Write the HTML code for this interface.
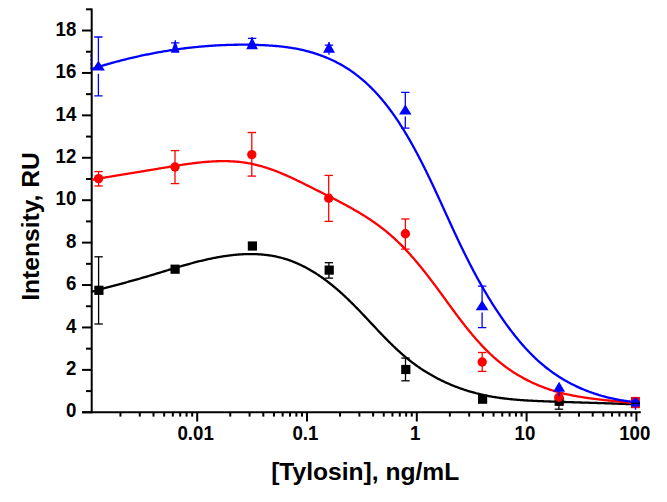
<!DOCTYPE html>
<html><head><meta charset="utf-8"><style>
html,body{margin:0;padding:0;background:#fff;}
svg{display:block;}
.t{font-family:"Liberation Sans",sans-serif;font-weight:bold;font-size:18.67px;fill:#000;}
.ti{font-family:"Liberation Sans",sans-serif;font-weight:bold;font-size:24.6px;fill:#000;}
</style></head><body>
<svg width="667" height="502" viewBox="0 0 667 502" shape-rendering="auto">
<path d="M91.7,8.4 V413.2" stroke="#000" stroke-width="2.0" fill="none"/>
<path d="M82,412.2 H640.8" stroke="#000" stroke-width="2.0" fill="none"/>
<path d="M82.0,412.30 H91.7" stroke="#000" stroke-width="2.0"/>
<path d="M86.0,391.09 H91.7" stroke="#000" stroke-width="2.0"/>
<path d="M82.0,369.88 H91.7" stroke="#000" stroke-width="2.0"/>
<path d="M86.0,348.67 H91.7" stroke="#000" stroke-width="2.0"/>
<path d="M82.0,327.46 H91.7" stroke="#000" stroke-width="2.0"/>
<path d="M86.0,306.25 H91.7" stroke="#000" stroke-width="2.0"/>
<path d="M82.0,285.04 H91.7" stroke="#000" stroke-width="2.0"/>
<path d="M86.0,263.83 H91.7" stroke="#000" stroke-width="2.0"/>
<path d="M82.0,242.62 H91.7" stroke="#000" stroke-width="2.0"/>
<path d="M86.0,221.41 H91.7" stroke="#000" stroke-width="2.0"/>
<path d="M82.0,200.20 H91.7" stroke="#000" stroke-width="2.0"/>
<path d="M86.0,178.99 H91.7" stroke="#000" stroke-width="2.0"/>
<path d="M82.0,157.78 H91.7" stroke="#000" stroke-width="2.0"/>
<path d="M86.0,136.57 H91.7" stroke="#000" stroke-width="2.0"/>
<path d="M82.0,115.36 H91.7" stroke="#000" stroke-width="2.0"/>
<path d="M86.0,94.15 H91.7" stroke="#000" stroke-width="2.0"/>
<path d="M82.0,72.94 H91.7" stroke="#000" stroke-width="2.0"/>
<path d="M86.0,51.73 H91.7" stroke="#000" stroke-width="2.0"/>
<path d="M82.0,30.52 H91.7" stroke="#000" stroke-width="2.0"/>
<path d="M86.0,9.31 H91.7" stroke="#000" stroke-width="2.0"/>
<path d="M120.45,412.2 V416.6" stroke="#000" stroke-width="2.0"/>
<path d="M139.79,412.2 V416.6" stroke="#000" stroke-width="2.0"/>
<path d="M153.51,412.2 V416.6" stroke="#000" stroke-width="2.0"/>
<path d="M164.15,412.2 V416.6" stroke="#000" stroke-width="2.0"/>
<path d="M172.84,412.2 V416.6" stroke="#000" stroke-width="2.0"/>
<path d="M180.19,412.2 V416.6" stroke="#000" stroke-width="2.0"/>
<path d="M186.56,412.2 V416.6" stroke="#000" stroke-width="2.0"/>
<path d="M192.18,412.2 V416.6" stroke="#000" stroke-width="2.0"/>
<path d="M197.20,412.2 V421.5" stroke="#000" stroke-width="2.0"/>
<path d="M230.25,412.2 V416.6" stroke="#000" stroke-width="2.0"/>
<path d="M249.59,412.2 V416.6" stroke="#000" stroke-width="2.0"/>
<path d="M263.31,412.2 V416.6" stroke="#000" stroke-width="2.0"/>
<path d="M273.95,412.2 V416.6" stroke="#000" stroke-width="2.0"/>
<path d="M282.64,412.2 V416.6" stroke="#000" stroke-width="2.0"/>
<path d="M289.99,412.2 V416.6" stroke="#000" stroke-width="2.0"/>
<path d="M296.36,412.2 V416.6" stroke="#000" stroke-width="2.0"/>
<path d="M301.98,412.2 V416.6" stroke="#000" stroke-width="2.0"/>
<path d="M307.00,412.2 V421.5" stroke="#000" stroke-width="2.0"/>
<path d="M340.05,412.2 V416.6" stroke="#000" stroke-width="2.0"/>
<path d="M359.39,412.2 V416.6" stroke="#000" stroke-width="2.0"/>
<path d="M373.11,412.2 V416.6" stroke="#000" stroke-width="2.0"/>
<path d="M383.75,412.2 V416.6" stroke="#000" stroke-width="2.0"/>
<path d="M392.44,412.2 V416.6" stroke="#000" stroke-width="2.0"/>
<path d="M399.79,412.2 V416.6" stroke="#000" stroke-width="2.0"/>
<path d="M406.16,412.2 V416.6" stroke="#000" stroke-width="2.0"/>
<path d="M411.78,412.2 V416.6" stroke="#000" stroke-width="2.0"/>
<path d="M416.80,412.2 V421.5" stroke="#000" stroke-width="2.0"/>
<path d="M449.85,412.2 V416.6" stroke="#000" stroke-width="2.0"/>
<path d="M469.19,412.2 V416.6" stroke="#000" stroke-width="2.0"/>
<path d="M482.91,412.2 V416.6" stroke="#000" stroke-width="2.0"/>
<path d="M493.55,412.2 V416.6" stroke="#000" stroke-width="2.0"/>
<path d="M502.24,412.2 V416.6" stroke="#000" stroke-width="2.0"/>
<path d="M509.59,412.2 V416.6" stroke="#000" stroke-width="2.0"/>
<path d="M515.96,412.2 V416.6" stroke="#000" stroke-width="2.0"/>
<path d="M521.58,412.2 V416.6" stroke="#000" stroke-width="2.0"/>
<path d="M526.60,412.2 V421.5" stroke="#000" stroke-width="2.0"/>
<path d="M559.65,412.2 V416.6" stroke="#000" stroke-width="2.0"/>
<path d="M578.99,412.2 V416.6" stroke="#000" stroke-width="2.0"/>
<path d="M592.71,412.2 V416.6" stroke="#000" stroke-width="2.0"/>
<path d="M603.35,412.2 V416.6" stroke="#000" stroke-width="2.0"/>
<path d="M612.04,412.2 V416.6" stroke="#000" stroke-width="2.0"/>
<path d="M619.39,412.2 V416.6" stroke="#000" stroke-width="2.0"/>
<path d="M625.76,412.2 V416.6" stroke="#000" stroke-width="2.0"/>
<path d="M631.38,412.2 V416.6" stroke="#000" stroke-width="2.0"/>
<path d="M636.40,412.2 V421.5" stroke="#000" stroke-width="2.0"/>
<text transform="translate(76.3,417.00) scale(1,1.07)" text-anchor="end" class="t">0</text>
<text transform="translate(76.3,375.08) scale(1,1.07)" text-anchor="end" class="t">2</text>
<text transform="translate(76.3,332.66) scale(1,1.07)" text-anchor="end" class="t">4</text>
<text transform="translate(76.3,290.24) scale(1,1.07)" text-anchor="end" class="t">6</text>
<text transform="translate(76.3,247.82) scale(1,1.07)" text-anchor="end" class="t">8</text>
<text transform="translate(76.3,205.40) scale(1,1.07)" text-anchor="end" class="t">10</text>
<text transform="translate(76.3,162.98) scale(1,1.07)" text-anchor="end" class="t">12</text>
<text transform="translate(76.3,120.56) scale(1,1.07)" text-anchor="end" class="t">14</text>
<text transform="translate(76.3,78.14) scale(1,1.07)" text-anchor="end" class="t">16</text>
<text transform="translate(76.3,35.72) scale(1,1.07)" text-anchor="end" class="t">18</text>
<text transform="translate(195.60,440.2) scale(1,1.07)" text-anchor="middle" class="t">0.01</text>
<text transform="translate(305.40,440.2) scale(1,1.07)" text-anchor="middle" class="t">0.1</text>
<text transform="translate(415.20,440.2) scale(1,1.07)" text-anchor="middle" class="t">1</text>
<text transform="translate(525.00,440.2) scale(1,1.07)" text-anchor="middle" class="t">10</text>
<text transform="translate(634.80,440.2) scale(1,1.07)" text-anchor="middle" class="t">100</text>
<text x="365.2" y="479.7" text-anchor="middle" class="ti">[Tylosin], ng/mL</text>
<text transform="translate(38.9,226.5) rotate(-90)" text-anchor="middle" class="ti">Intensity, RU</text>
<path d="M91.98,291.53 L92.95,291.28 L93.92,291.02 L94.88,290.76 L95.85,290.50 L96.81,290.25 L97.78,289.99 L98.74,289.74 L99.71,289.48 L100.67,289.22 L101.64,288.97 L102.60,288.71 L103.57,288.46 L104.53,288.20 L105.49,287.94 L106.46,287.69 L107.42,287.43 L108.38,287.18 L109.34,286.92 L110.31,286.66 L111.27,286.41 L112.23,286.15 L113.19,285.89 L114.15,285.63 L115.11,285.38 L116.07,285.12 L117.03,284.86 L117.99,284.60 L118.95,284.34 L119.91,284.08 L120.87,283.82 L121.83,283.56 L122.79,283.30 L123.75,283.04 L124.71,282.78 L125.67,282.52 L126.63,282.26 L127.58,281.99 L128.54,281.73 L129.50,281.47 L130.46,281.20 L131.42,280.93 L132.37,280.67 L133.33,280.40 L134.29,280.13 L135.24,279.86 L136.20,279.60 L137.16,279.33 L138.11,279.05 L139.07,278.78 L140.02,278.51 L140.98,278.24 L141.94,277.96 L142.89,277.69 L143.85,277.41 L144.80,277.13 L145.76,276.85 L146.71,276.57 L147.67,276.29 L148.62,276.01 L149.57,275.73 L150.53,275.44 L151.48,275.16 L152.44,274.87 L153.39,274.59 L154.35,274.30 L155.30,274.01 L156.25,273.72 L157.21,273.43 L158.16,273.14 L159.12,272.85 L160.07,272.56 L161.02,272.27 L161.98,271.98 L162.93,271.69 L163.89,271.40 L164.84,271.11 L165.80,270.82 L166.75,270.52 L167.71,270.23 L168.66,269.94 L169.62,269.65 L170.57,269.36 L171.53,269.07 L172.48,268.79 L173.44,268.50 L174.40,268.21 L175.35,267.92 L176.31,267.64 L177.27,267.35 L178.23,267.07 L179.18,266.79 L180.14,266.51 L181.10,266.23 L182.06,265.95 L183.02,265.67 L183.98,265.40 L184.94,265.12 L185.90,264.85 L186.87,264.58 L187.83,264.31 L188.79,264.04 L189.75,263.78 L190.72,263.51 L191.68,263.25 L192.65,262.99 L193.61,262.73 L194.58,262.48 L195.54,262.23 L196.51,261.98 L197.48,261.73 L198.45,261.48 L199.42,261.24 L200.39,261.00 L201.36,260.76 L202.33,260.53 L203.30,260.30 L204.28,260.07 L205.25,259.84 L206.23,259.62 L207.20,259.40 L208.18,259.19 L209.15,258.97 L210.13,258.76 L211.11,258.56 L212.09,258.36 L213.07,258.16 L214.05,257.96 L215.04,257.77 L216.02,257.58 L217.00,257.40 L217.99,257.22 L218.98,257.05 L219.96,256.88 L220.95,256.71 L221.94,256.55 L222.93,256.39 L223.93,256.23 L224.92,256.09 L225.91,255.94 L226.91,255.80 L227.90,255.67 L228.90,255.53 L229.90,255.41 L230.89,255.29 L231.89,255.17 L232.89,255.06 L233.89,254.96 L234.89,254.86 L235.89,254.76 L236.89,254.68 L237.89,254.59 L238.89,254.51 L239.89,254.44 L240.89,254.38 L241.89,254.32 L242.89,254.26 L243.89,254.22 L244.89,254.17 L245.89,254.14 L246.89,254.11 L247.89,254.09 L248.89,254.07 L249.89,254.06 L250.89,254.06 L251.89,254.06 L252.88,254.07 L253.88,254.09 L254.87,254.12 L255.86,254.15 L256.86,254.19 L257.85,254.23 L258.84,254.29 L259.83,254.35 L260.82,254.42 L261.80,254.49 L262.79,254.58 L263.77,254.67 L264.76,254.77 L265.74,254.87 L266.72,254.99 L267.69,255.11 L268.67,255.24 L269.65,255.38 L270.62,255.53 L271.59,255.69 L272.56,255.85 L273.52,256.03 L274.49,256.21 L275.45,256.40 L276.41,256.60 L277.37,256.81 L278.32,257.03 L279.28,257.26 L280.23,257.49 L281.17,257.74 L282.12,257.99 L283.06,258.26 L284.00,258.53 L284.94,258.81 L285.88,259.10 L286.81,259.40 L287.74,259.71 L288.67,260.03 L289.59,260.35 L290.51,260.68 L291.43,261.03 L292.35,261.38 L293.26,261.73 L294.17,262.10 L295.08,262.47 L295.99,262.85 L296.89,263.24 L297.79,263.64 L298.69,264.04 L299.59,264.46 L300.48,264.87 L301.37,265.30 L302.26,265.73 L303.14,266.17 L304.03,266.62 L304.91,267.08 L305.78,267.54 L306.66,268.01 L307.53,268.48 L308.39,268.96 L309.26,269.45 L310.12,269.94 L310.98,270.44 L311.84,270.95 L312.69,271.46 L313.55,271.98 L314.39,272.51 L315.24,273.04 L316.08,273.57 L316.92,274.11 L317.76,274.66 L318.59,275.21 L319.43,275.77 L320.25,276.34 L321.08,276.90 L321.90,277.48 L322.72,278.06 L323.54,278.64 L324.35,279.23 L325.16,279.82 L325.97,280.42 L326.78,281.02 L327.58,281.63 L328.38,282.24 L329.18,282.86 L329.97,283.48 L330.76,284.10 L331.55,284.73 L332.33,285.36 L333.11,286.00 L333.89,286.64 L334.67,287.28 L335.44,287.93 L336.21,288.58 L336.97,289.24 L337.74,289.89 L338.50,290.56 L339.25,291.22 L340.01,291.89 L340.76,292.56 L341.51,293.23 L342.25,293.91 L342.99,294.58 L343.73,295.27 L344.47,295.95 L345.20,296.64 L345.94,297.33 L346.67,298.02 L347.39,298.71 L348.12,299.41 L348.84,300.11 L349.56,300.81 L350.28,301.51 L350.99,302.21 L351.71,302.92 L352.42,303.63 L353.13,304.34 L353.84,305.05 L354.55,305.76 L355.25,306.48 L355.95,307.20 L356.66,307.91 L357.36,308.63 L358.05,309.35 L358.75,310.07 L359.45,310.80 L360.14,311.52 L360.84,312.25 L361.53,312.97 L362.22,313.70 L362.91,314.43 L363.60,315.15 L364.29,315.88 L364.98,316.61 L365.67,317.34 L366.35,318.07 L367.04,318.80 L367.73,319.53 L368.41,320.26 L369.10,320.99 L369.78,321.72 L370.47,322.45 L371.15,323.18 L371.84,323.91 L372.52,324.65 L373.20,325.37 L373.89,326.10 L374.57,326.83 L375.26,327.56 L375.94,328.29 L376.63,329.02 L377.31,329.74 L378.00,330.47 L378.69,331.19 L379.37,331.92 L380.06,332.64 L380.75,333.36 L381.44,334.08 L382.13,334.80 L382.82,335.51 L383.51,336.23 L384.21,336.94 L384.90,337.66 L385.60,338.37 L386.29,339.08 L386.99,339.79 L387.69,340.49 L388.39,341.20 L389.10,341.90 L389.80,342.60 L390.51,343.29 L391.21,343.99 L391.92,344.68 L392.63,345.37 L393.35,346.06 L394.06,346.75 L394.78,347.43 L395.50,348.11 L396.22,348.79 L396.94,349.46 L397.67,350.13 L398.40,350.80 L399.13,351.47 L399.86,352.13 L400.60,352.79 L401.33,353.45 L402.07,354.10 L402.82,354.75 L403.57,355.40 L404.31,356.04 L405.07,356.68 L405.82,357.31 L406.58,357.94 L407.34,358.57 L408.11,359.20 L408.88,359.81 L409.65,360.43 L410.42,361.04 L411.20,361.65 L411.98,362.25 L412.77,362.85 L413.56,363.45 L414.35,364.04 L415.15,364.62 L415.95,365.20 L416.75,365.78 L417.56,366.35 L418.37,366.92 L419.18,367.48 L420.00,368.04 L420.82,368.59 L421.65,369.14 L422.48,369.68 L423.31,370.22 L424.15,370.75 L424.98,371.28 L425.83,371.81 L426.67,372.33 L427.52,372.85 L428.37,373.36 L429.23,373.86 L430.08,374.37 L430.94,374.86 L431.81,375.36 L432.68,375.84 L433.55,376.33 L434.42,376.80 L435.29,377.28 L436.17,377.75 L437.05,378.21 L437.94,378.67 L438.82,379.12 L439.71,379.57 L440.61,380.02 L441.50,380.46 L442.40,380.89 L443.30,381.32 L444.20,381.75 L445.10,382.17 L446.01,382.58 L446.92,382.99 L447.83,383.40 L448.75,383.80 L449.66,384.19 L450.58,384.58 L451.50,384.97 L452.43,385.35 L453.35,385.73 L454.28,386.10 L455.21,386.46 L456.14,386.82 L457.07,387.18 L458.01,387.53 L458.94,387.88 L459.88,388.22 L460.82,388.55 L461.77,388.89 L462.71,389.21 L463.66,389.53 L464.60,389.85 L465.55,390.16 L466.50,390.46 L467.46,390.76 L468.41,391.06 L469.37,391.35 L470.32,391.63 L471.28,391.91 L472.24,392.19 L473.20,392.46 L474.16,392.72 L475.13,392.98 L476.09,393.24 L477.06,393.49 L478.03,393.73 L478.99,393.97 L479.96,394.20 L480.93,394.43 L481.91,394.65 L482.88,394.87 L483.85,395.08 L484.83,395.29 L485.80,395.49 L486.78,395.69 L487.76,395.88 L488.73,396.07 L489.71,396.26 L490.69,396.44 L491.67,396.61 L492.65,396.78 L493.64,396.95 L494.62,397.11 L495.60,397.26 L496.59,397.42 L497.57,397.57 L498.56,397.71 L499.54,397.85 L500.53,397.99 L501.52,398.12 L502.51,398.25 L503.50,398.38 L504.49,398.50 L505.48,398.62 L506.47,398.73 L507.46,398.85 L508.45,398.95 L509.44,399.06 L510.44,399.16 L511.43,399.26 L512.42,399.36 L513.42,399.45 L514.41,399.54 L515.41,399.63 L516.40,399.71 L517.40,399.80 L518.39,399.88 L519.39,399.95 L520.39,400.03 L521.38,400.10 L522.38,400.17 L523.38,400.24 L524.38,400.31 L525.38,400.37 L526.37,400.43 L527.37,400.49 L528.37,400.55 L529.37,400.61 L530.37,400.66 L531.37,400.72 L532.37,400.77 L533.37,400.82 L534.36,400.87 L535.36,400.91 L536.36,400.96 L537.36,401.01 L538.36,401.05 L539.36,401.09 L540.36,401.14 L541.36,401.18 L542.36,401.22 L543.36,401.26 L544.36,401.29 L545.35,401.33 L546.35,401.37 L547.35,401.41 L548.35,401.44 L549.35,401.48 L550.35,401.52 L551.34,401.55 L552.34,401.59 L553.34,401.62 L554.33,401.66 L555.33,401.69 L556.33,401.73 L557.33,401.76 L558.32,401.79 L559.32,401.83 L560.31,401.86 L561.31,401.89 L562.31,401.93 L563.30,401.96 L564.30,401.99 L565.29,402.02 L566.29,402.05 L567.29,402.08 L568.28,402.12 L569.28,402.15 L570.27,402.18 L571.27,402.21 L572.26,402.24 L573.26,402.27 L574.25,402.30 L575.25,402.33 L576.24,402.36 L577.24,402.39 L578.23,402.42 L579.23,402.45 L580.22,402.48 L581.22,402.51 L582.21,402.54 L583.20,402.57 L584.20,402.60 L585.19,402.63 L586.19,402.66 L587.18,402.69 L588.18,402.72 L589.17,402.75 L590.17,402.78 L591.16,402.81 L592.16,402.84 L593.15,402.87 L594.14,402.90 L595.14,402.93 L596.13,402.96 L597.13,402.99 L598.12,403.03 L599.12,403.06 L600.11,403.09 L601.11,403.12 L602.10,403.15 L603.10,403.18 L604.09,403.22 L605.09,403.25 L606.08,403.28 L607.08,403.32 L608.07,403.35 L609.07,403.38 L610.07,403.42 L611.06,403.45 L612.06,403.49 L613.05,403.52 L614.05,403.56 L615.04,403.59 L616.04,403.63 L617.04,403.66 L618.03,403.70 L619.03,403.74 L620.03,403.77 L621.02,403.81 L622.02,403.85 L623.02,403.89 L624.02,403.93 L625.01,403.97 L626.01,404.01 L627.01,404.05 L628.01,404.09 L629.01,404.13 L630.00,404.18 L631.00,404.22 L632.00,404.26 L633.00,404.31 L634.00,404.35 L635.00,404.39 L636.00,404.44 L637.00,404.49" stroke="#000" stroke-width="2.3" fill="none" stroke-linejoin="round"/>
<path d="M91.95,179.70 L93.01,179.52 L94.07,179.34 L95.13,179.16 L96.19,178.98 L97.24,178.80 L98.30,178.62 L99.35,178.44 L100.40,178.26 L101.45,178.09 L102.50,177.91 L103.55,177.73 L104.59,177.56 L105.64,177.38 L106.68,177.21 L107.73,177.03 L108.77,176.86 L109.81,176.69 L110.85,176.52 L111.89,176.34 L112.93,176.17 L113.97,176.00 L115.01,175.83 L116.05,175.66 L117.08,175.49 L118.12,175.32 L119.15,175.15 L120.19,174.98 L121.22,174.81 L122.26,174.64 L123.29,174.47 L124.33,174.30 L125.36,174.13 L126.39,173.96 L127.42,173.79 L128.46,173.62 L129.49,173.45 L130.52,173.28 L131.55,173.12 L132.59,172.95 L133.62,172.78 L134.65,172.61 L135.68,172.44 L136.71,172.27 L137.75,172.10 L138.78,171.93 L139.81,171.76 L140.84,171.59 L141.88,171.42 L142.91,171.25 L143.94,171.08 L144.98,170.91 L146.01,170.74 L147.05,170.57 L148.08,170.40 L149.12,170.23 L150.15,170.06 L151.19,169.89 L152.23,169.71 L153.27,169.54 L154.30,169.37 L155.34,169.19 L156.38,169.02 L157.43,168.85 L158.47,168.67 L159.51,168.49 L160.56,168.32 L161.60,168.14 L162.65,167.97 L163.69,167.79 L164.74,167.61 L165.79,167.44 L166.84,167.26 L167.89,167.08 L168.94,166.91 L169.99,166.73 L171.04,166.56 L172.09,166.39 L173.14,166.21 L174.19,166.04 L175.25,165.87 L176.30,165.70 L177.36,165.53 L178.41,165.37 L179.47,165.20 L180.52,165.04 L181.58,164.88 L182.64,164.72 L183.69,164.56 L184.75,164.41 L185.81,164.25 L186.86,164.10 L187.92,163.95 L188.98,163.81 L190.04,163.67 L191.10,163.52 L192.16,163.39 L193.21,163.25 L194.27,163.12 L195.33,162.99 L196.39,162.87 L197.45,162.75 L198.51,162.63 L199.57,162.52 L200.63,162.40 L201.68,162.30 L202.74,162.20 L203.80,162.10 L204.86,162.00 L205.92,161.91 L206.97,161.83 L208.03,161.75 L209.09,161.67 L210.15,161.60 L211.20,161.53 L212.26,161.47 L213.31,161.41 L214.37,161.36 L215.42,161.32 L216.48,161.27 L217.53,161.24 L218.59,161.21 L219.64,161.19 L220.69,161.17 L221.74,161.16 L222.79,161.15 L223.84,161.15 L224.89,161.16 L225.94,161.17 L226.99,161.19 L228.04,161.22 L229.09,161.25 L230.13,161.29 L231.18,161.34 L232.22,161.39 L233.27,161.45 L234.31,161.52 L235.35,161.59 L236.39,161.68 L237.43,161.77 L238.47,161.87 L239.51,161.97 L240.55,162.09 L241.58,162.21 L242.62,162.34 L243.65,162.48 L244.69,162.63 L245.72,162.78 L246.75,162.95 L247.78,163.12 L248.80,163.30 L249.83,163.49 L250.86,163.69 L251.88,163.90 L252.90,164.12 L253.92,164.34 L254.94,164.58 L255.96,164.82 L256.98,165.07 L258.00,165.33 L259.01,165.59 L260.02,165.87 L261.04,166.15 L262.04,166.43 L263.05,166.73 L264.06,167.03 L265.06,167.34 L266.07,167.65 L267.07,167.98 L268.07,168.30 L269.07,168.64 L270.06,168.98 L271.06,169.33 L272.05,169.68 L273.04,170.04 L274.03,170.40 L275.02,170.77 L276.01,171.15 L276.99,171.53 L277.97,171.91 L278.95,172.30 L279.93,172.70 L280.91,173.10 L281.88,173.50 L282.85,173.91 L283.82,174.33 L284.79,174.74 L285.76,175.16 L286.72,175.59 L287.69,176.02 L288.65,176.45 L289.61,176.88 L290.57,177.32 L291.53,177.77 L292.49,178.21 L293.44,178.66 L294.40,179.11 L295.35,179.56 L296.30,180.02 L297.26,180.48 L298.21,180.94 L299.16,181.40 L300.11,181.86 L301.06,182.33 L302.01,182.80 L302.96,183.27 L303.91,183.74 L304.86,184.21 L305.80,184.68 L306.75,185.16 L307.70,185.63 L308.65,186.11 L309.60,186.58 L310.54,187.06 L311.49,187.53 L312.44,188.01 L313.39,188.49 L314.34,188.97 L315.29,189.44 L316.24,189.92 L317.19,190.40 L318.14,190.87 L319.10,191.35 L320.05,191.83 L321.00,192.30 L321.95,192.78 L322.90,193.26 L323.85,193.74 L324.81,194.22 L325.76,194.70 L326.71,195.18 L327.66,195.66 L328.61,196.14 L329.56,196.62 L330.51,197.10 L331.46,197.59 L332.41,198.07 L333.36,198.56 L334.31,199.05 L335.25,199.53 L336.20,200.02 L337.15,200.51 L338.09,201.01 L339.03,201.50 L339.98,201.99 L340.92,202.49 L341.86,202.99 L342.80,203.49 L343.73,203.99 L344.67,204.49 L345.61,205.00 L346.54,205.51 L347.47,206.02 L348.40,206.53 L349.33,207.04 L350.26,207.56 L351.18,208.07 L352.11,208.59 L353.03,209.12 L353.95,209.64 L354.87,210.17 L355.78,210.70 L356.70,211.23 L357.61,211.77 L358.52,212.30 L359.43,212.84 L360.33,213.39 L361.24,213.94 L362.14,214.48 L363.03,215.04 L363.93,215.59 L364.82,216.15 L365.71,216.71 L366.60,217.28 L367.49,217.85 L368.37,218.42 L369.25,219.00 L370.12,219.58 L371.00,220.16 L371.87,220.75 L372.73,221.34 L373.60,221.93 L374.46,222.53 L375.32,223.13 L376.17,223.74 L377.02,224.35 L377.87,224.96 L378.71,225.58 L379.55,226.20 L380.39,226.83 L381.22,227.46 L382.05,228.09 L382.88,228.74 L383.70,229.38 L384.52,230.03 L385.33,230.68 L386.14,231.34 L386.95,232.01 L387.75,232.67 L388.55,233.35 L389.34,234.02 L390.13,234.71 L390.92,235.39 L391.70,236.08 L392.48,236.78 L393.26,237.47 L394.03,238.18 L394.80,238.88 L395.56,239.60 L396.32,240.31 L397.08,241.03 L397.84,241.75 L398.59,242.48 L399.34,243.21 L400.08,243.94 L400.82,244.68 L401.56,245.42 L402.30,246.17 L403.03,246.92 L403.76,247.67 L404.49,248.43 L405.21,249.18 L405.93,249.95 L406.65,250.71 L407.37,251.48 L408.08,252.25 L408.79,253.03 L409.50,253.81 L410.20,254.59 L410.90,255.37 L411.60,256.16 L412.30,256.95 L412.99,257.74 L413.69,258.53 L414.38,259.33 L415.06,260.13 L415.75,260.93 L416.43,261.74 L417.11,262.55 L417.79,263.36 L418.47,264.17 L419.14,264.98 L419.81,265.80 L420.48,266.62 L421.15,267.44 L421.82,268.26 L422.48,269.09 L423.14,269.91 L423.81,270.74 L424.46,271.57 L425.12,272.41 L425.78,273.24 L426.43,274.08 L427.08,274.91 L427.74,275.75 L428.38,276.59 L429.03,277.44 L429.68,278.28 L430.32,279.12 L430.97,279.97 L431.61,280.82 L432.25,281.66 L432.89,282.51 L433.53,283.36 L434.17,284.22 L434.81,285.07 L435.44,285.92 L436.08,286.78 L436.71,287.63 L437.35,288.49 L437.98,289.34 L438.61,290.20 L439.24,291.06 L439.87,291.92 L440.50,292.78 L441.13,293.63 L441.76,294.49 L442.38,295.35 L443.01,296.21 L443.64,297.07 L444.27,297.93 L444.89,298.79 L445.52,299.65 L446.14,300.51 L446.77,301.37 L447.40,302.23 L448.02,303.09 L448.65,303.95 L449.28,304.81 L449.90,305.67 L450.53,306.53 L451.16,307.38 L451.78,308.24 L452.41,309.10 L453.04,309.95 L453.67,310.80 L454.30,311.66 L454.93,312.51 L455.57,313.36 L456.20,314.21 L456.83,315.06 L457.47,315.91 L458.10,316.76 L458.74,317.60 L459.38,318.44 L460.02,319.29 L460.66,320.13 L461.30,320.97 L461.94,321.81 L462.59,322.64 L463.23,323.48 L463.88,324.31 L464.53,325.14 L465.18,325.97 L465.84,326.79 L466.49,327.62 L467.15,328.44 L467.81,329.26 L468.47,330.08 L469.13,330.90 L469.80,331.71 L470.47,332.52 L471.14,333.33 L471.81,334.14 L472.49,334.94 L473.16,335.74 L473.84,336.54 L474.53,337.33 L475.21,338.12 L475.90,338.91 L476.59,339.70 L477.28,340.48 L477.98,341.26 L478.68,342.04 L479.38,342.81 L480.09,343.59 L480.80,344.35 L481.51,345.12 L482.23,345.88 L482.95,346.63 L483.67,347.39 L484.40,348.14 L485.12,348.88 L485.86,349.62 L486.59,350.36 L487.34,351.10 L488.08,351.83 L488.83,352.55 L489.58,353.27 L490.34,353.99 L491.10,354.71 L491.86,355.42 L492.63,356.12 L493.40,356.82 L494.18,357.52 L494.96,358.21 L495.75,358.90 L496.54,359.58 L497.33,360.26 L498.13,360.93 L498.94,361.60 L499.74,362.26 L500.56,362.92 L501.38,363.57 L502.20,364.22 L503.03,364.87 L503.86,365.50 L504.70,366.14 L505.54,366.76 L506.39,367.39 L507.25,368.00 L508.11,368.61 L508.97,369.22 L509.84,369.82 L510.71,370.41 L511.59,371.00 L512.48,371.59 L513.36,372.16 L514.26,372.74 L515.15,373.30 L516.05,373.86 L516.96,374.42 L517.87,374.97 L518.78,375.51 L519.70,376.05 L520.62,376.58 L521.55,377.10 L522.48,377.62 L523.41,378.13 L524.34,378.64 L525.28,379.14 L526.23,379.63 L527.17,380.12 L528.12,380.60 L529.08,381.08 L530.03,381.55 L530.99,382.01 L531.96,382.47 L532.92,382.92 L533.89,383.36 L534.86,383.80 L535.83,384.23 L536.81,384.65 L537.79,385.07 L538.77,385.48 L539.75,385.88 L540.74,386.28 L541.73,386.67 L542.72,387.05 L543.71,387.43 L544.70,387.80 L545.70,388.16 L546.69,388.52 L547.69,388.87 L548.69,389.21 L549.70,389.54 L550.70,389.87 L551.71,390.19 L552.71,390.51 L553.72,390.81 L554.73,391.12 L555.74,391.41 L556.76,391.70 L557.77,391.98 L558.79,392.26 L559.80,392.53 L560.82,392.80 L561.84,393.06 L562.86,393.31 L563.89,393.56 L564.91,393.80 L565.93,394.04 L566.96,394.28 L567.99,394.50 L569.01,394.73 L570.04,394.94 L571.07,395.16 L572.10,395.37 L573.14,395.57 L574.17,395.77 L575.20,395.96 L576.24,396.16 L577.27,396.34 L578.31,396.52 L579.34,396.70 L580.38,396.88 L581.42,397.05 L582.46,397.22 L583.50,397.38 L584.54,397.54 L585.58,397.70 L586.62,397.85 L587.67,398.00 L588.71,398.15 L589.75,398.29 L590.80,398.43 L591.84,398.57 L592.89,398.71 L593.93,398.84 L594.98,398.97 L596.03,399.10 L597.07,399.23 L598.12,399.36 L599.17,399.48 L600.22,399.60 L601.27,399.72 L602.32,399.84 L603.37,399.95 L604.42,400.07 L605.46,400.18 L606.51,400.29 L607.57,400.40 L608.62,400.51 L609.67,400.62 L610.72,400.73 L611.77,400.84 L612.82,400.94 L613.87,401.05 L614.92,401.15 L615.97,401.26 L617.02,401.36 L618.07,401.47 L619.12,401.57 L620.18,401.68 L621.23,401.79 L622.28,401.89 L623.33,402.00 L624.38,402.11 L625.43,402.21 L626.48,402.32 L627.53,402.43 L628.58,402.54 L629.63,402.65 L630.68,402.76 L631.73,402.88 L632.78,402.99 L633.82,403.11 L634.87,403.23 L635.92,403.35 L636.97,403.47" stroke="#f00" stroke-width="2.3" fill="none" stroke-linejoin="round"/>
<path d="M92.04,68.85 L93.20,68.48 L94.35,68.12 L95.51,67.75 L96.67,67.40 L97.83,67.04 L98.99,66.69 L100.15,66.34 L101.31,65.99 L102.47,65.64 L103.63,65.30 L104.80,64.96 L105.96,64.62 L107.12,64.29 L108.29,63.95 L109.45,63.62 L110.62,63.30 L111.79,62.97 L112.95,62.65 L114.12,62.33 L115.29,62.01 L116.46,61.70 L117.63,61.39 L118.80,61.08 L119.97,60.78 L121.14,60.47 L122.31,60.17 L123.49,59.87 L124.66,59.58 L125.83,59.29 L127.01,59.00 L128.18,58.71 L129.36,58.43 L130.53,58.15 L131.71,57.87 L132.89,57.59 L134.07,57.32 L135.24,57.05 L136.42,56.78 L137.60,56.52 L138.78,56.25 L139.96,55.99 L141.14,55.74 L142.32,55.49 L143.51,55.23 L144.69,54.99 L145.87,54.74 L147.05,54.50 L148.24,54.26 L149.42,54.02 L150.61,53.79 L151.79,53.56 L152.98,53.33 L154.16,53.10 L155.35,52.88 L156.54,52.66 L157.73,52.45 L158.91,52.23 L160.10,52.02 L161.29,51.81 L162.48,51.61 L163.67,51.41 L164.86,51.21 L166.05,51.01 L167.24,50.82 L168.44,50.62 L169.63,50.44 L170.82,50.25 L172.01,50.07 L173.21,49.89 L174.40,49.71 L175.59,49.54 L176.79,49.37 L177.98,49.20 L179.18,49.04 L180.37,48.88 L181.57,48.72 L182.77,48.56 L183.96,48.41 L185.16,48.26 L186.36,48.12 L187.56,47.97 L188.76,47.83 L189.95,47.69 L191.15,47.56 L192.35,47.43 L193.55,47.30 L194.75,47.17 L195.95,47.05 L197.15,46.93 L198.35,46.82 L199.56,46.70 L200.76,46.59 L201.96,46.48 L203.16,46.38 L204.36,46.28 L205.57,46.18 L206.77,46.09 L207.97,45.99 L209.18,45.91 L210.38,45.82 L211.59,45.74 L212.79,45.66 L214.00,45.58 L215.20,45.51 L216.41,45.44 L217.61,45.37 L218.82,45.31 L220.03,45.25 L221.23,45.19 L222.44,45.13 L223.65,45.08 L224.85,45.03 L226.06,44.99 L227.27,44.95 L228.48,44.91 L229.68,44.87 L230.89,44.84 L232.10,44.81 L233.31,44.78 L234.52,44.76 L235.73,44.74 L236.94,44.73 L238.15,44.71 L239.36,44.70 L240.57,44.70 L241.78,44.69 L242.99,44.69 L244.20,44.69 L245.41,44.70 L246.62,44.71 L247.83,44.72 L249.04,44.74 L250.26,44.76 L251.47,44.78 L252.68,44.81 L253.89,44.83 L255.10,44.87 L256.32,44.90 L257.53,44.94 L258.74,44.98 L259.95,45.03 L261.17,45.08 L262.38,45.13 L263.59,45.19 L264.80,45.25 L266.02,45.31 L267.23,45.38 L268.44,45.45 L269.65,45.53 L270.87,45.61 L272.08,45.70 L273.29,45.79 L274.50,45.89 L275.71,45.99 L276.92,46.10 L278.12,46.21 L279.33,46.33 L280.54,46.46 L281.74,46.59 L282.95,46.73 L284.15,46.87 L285.36,47.02 L286.56,47.18 L287.76,47.35 L288.96,47.52 L290.16,47.70 L291.36,47.88 L292.55,48.08 L293.75,48.28 L294.94,48.49 L296.13,48.71 L297.33,48.94 L298.51,49.17 L299.70,49.41 L300.89,49.67 L302.07,49.93 L303.25,50.20 L304.43,50.48 L305.61,50.77 L306.79,51.06 L307.96,51.37 L309.14,51.69 L310.31,52.02 L311.47,52.35 L312.64,52.70 L313.80,53.05 L314.96,53.42 L316.12,53.79 L317.27,54.17 L318.42,54.57 L319.56,54.97 L320.71,55.38 L321.84,55.80 L322.98,56.23 L324.11,56.67 L325.24,57.12 L326.36,57.57 L327.48,58.04 L328.59,58.52 L329.70,59.00 L330.80,59.50 L331.90,60.00 L332.99,60.52 L334.08,61.04 L335.16,61.57 L336.24,62.11 L337.31,62.66 L338.38,63.22 L339.44,63.79 L340.49,64.37 L341.54,64.96 L342.58,65.55 L343.62,66.16 L344.65,66.77 L345.67,67.40 L346.68,68.03 L347.69,68.67 L348.69,69.32 L349.69,69.98 L350.67,70.65 L351.65,71.33 L352.63,72.01 L353.60,72.71 L354.56,73.41 L355.51,74.12 L356.46,74.84 L357.40,75.57 L358.34,76.30 L359.27,77.05 L360.19,77.80 L361.11,78.56 L362.02,79.32 L362.93,80.10 L363.83,80.88 L364.72,81.67 L365.61,82.46 L366.49,83.26 L367.36,84.07 L368.23,84.89 L369.10,85.72 L369.96,86.55 L370.81,87.38 L371.66,88.23 L372.50,89.08 L373.33,89.93 L374.16,90.80 L374.99,91.67 L375.81,92.54 L376.62,93.42 L377.43,94.31 L378.23,95.20 L379.03,96.10 L379.82,97.01 L380.61,97.92 L381.39,98.83 L382.17,99.76 L382.94,100.68 L383.71,101.61 L384.47,102.55 L385.23,103.49 L385.98,104.44 L386.73,105.39 L387.47,106.35 L388.21,107.31 L388.94,108.27 L389.67,109.24 L390.40,110.22 L391.12,111.19 L391.83,112.18 L392.54,113.16 L393.25,114.15 L393.95,115.15 L394.65,116.15 L395.34,117.15 L396.03,118.15 L396.72,119.16 L397.40,120.17 L398.07,121.19 L398.74,122.21 L399.41,123.23 L400.08,124.26 L400.74,125.28 L401.39,126.32 L402.05,127.35 L402.70,128.39 L403.34,129.42 L403.98,130.47 L404.62,131.51 L405.25,132.56 L405.88,133.60 L406.51,134.65 L407.14,135.71 L407.76,136.76 L408.37,137.82 L408.98,138.88 L409.59,139.93 L410.20,141.00 L410.80,142.06 L411.40,143.12 L412.00,144.19 L412.60,145.25 L413.19,146.32 L413.77,147.39 L414.36,148.46 L414.94,149.53 L415.52,150.60 L416.09,151.67 L416.67,152.74 L417.24,153.82 L417.81,154.89 L418.37,155.96 L418.93,157.04 L419.49,158.12 L420.05,159.19 L420.61,160.27 L421.16,161.35 L421.71,162.42 L422.26,163.50 L422.80,164.58 L423.35,165.66 L423.89,166.74 L424.43,167.82 L424.97,168.91 L425.50,169.99 L426.04,171.07 L426.57,172.16 L427.10,173.24 L427.63,174.32 L428.15,175.41 L428.68,176.49 L429.20,177.58 L429.72,178.67 L430.24,179.75 L430.76,180.84 L431.28,181.93 L431.79,183.01 L432.31,184.10 L432.82,185.19 L433.33,186.28 L433.84,187.37 L434.35,188.46 L434.86,189.55 L435.37,190.64 L435.87,191.73 L436.38,192.82 L436.89,193.91 L437.39,195.00 L437.89,196.09 L438.40,197.18 L438.90,198.28 L439.40,199.37 L439.90,200.46 L440.40,201.55 L440.90,202.64 L441.40,203.74 L441.90,204.83 L442.40,205.92 L442.90,207.02 L443.39,208.11 L443.89,209.20 L444.39,210.29 L444.89,211.39 L445.39,212.48 L445.88,213.57 L446.38,214.67 L446.88,215.76 L447.38,216.85 L447.88,217.95 L448.38,219.04 L448.88,220.13 L449.38,221.23 L449.88,222.32 L450.38,223.41 L450.88,224.51 L451.38,225.60 L451.88,226.69 L452.39,227.78 L452.89,228.88 L453.40,229.97 L453.90,231.06 L454.41,232.15 L454.92,233.24 L455.43,234.34 L455.94,235.43 L456.45,236.52 L456.96,237.61 L457.47,238.70 L457.99,239.79 L458.50,240.88 L459.02,241.97 L459.54,243.06 L460.06,244.15 L460.58,245.24 L461.11,246.32 L461.63,247.41 L462.16,248.50 L462.69,249.59 L463.22,250.67 L463.75,251.76 L464.28,252.85 L464.82,253.93 L465.36,255.02 L465.90,256.10 L466.44,257.18 L466.98,258.27 L467.53,259.35 L468.07,260.43 L468.62,261.51 L469.17,262.59 L469.72,263.67 L470.28,264.75 L470.84,265.83 L471.40,266.90 L471.96,267.98 L472.52,269.05 L473.09,270.13 L473.65,271.20 L474.22,272.27 L474.79,273.34 L475.37,274.41 L475.95,275.48 L476.52,276.55 L477.11,277.61 L477.69,278.68 L478.27,279.74 L478.86,280.81 L479.45,281.87 L480.05,282.93 L480.64,283.98 L481.24,285.04 L481.84,286.10 L482.44,287.15 L483.05,288.20 L483.65,289.25 L484.26,290.30 L484.88,291.35 L485.49,292.40 L486.11,293.44 L486.73,294.49 L487.35,295.53 L487.98,296.57 L488.61,297.60 L489.24,298.64 L489.87,299.67 L490.51,300.71 L491.15,301.74 L491.79,302.77 L492.44,303.79 L493.09,304.82 L493.74,305.84 L494.39,306.86 L495.05,307.88 L495.71,308.89 L496.37,309.91 L497.04,310.92 L497.71,311.93 L498.38,312.94 L499.06,313.94 L499.73,314.95 L500.42,315.95 L501.10,316.95 L501.79,317.94 L502.48,318.94 L503.17,319.93 L503.87,320.92 L504.57,321.90 L505.27,322.89 L505.98,323.87 L506.69,324.85 L507.40,325.82 L508.12,326.79 L508.84,327.77 L509.57,328.73 L510.29,329.70 L511.02,330.66 L511.76,331.62 L512.50,332.58 L513.24,333.53 L513.98,334.48 L514.73,335.43 L515.48,336.37 L516.24,337.32 L517.00,338.25 L517.76,339.19 L518.53,340.12 L519.30,341.04 L520.08,341.97 L520.86,342.89 L521.65,343.80 L522.43,344.71 L523.23,345.62 L524.03,346.52 L524.83,347.41 L525.64,348.31 L526.45,349.19 L527.27,350.07 L528.09,350.95 L528.92,351.82 L529.76,352.69 L530.59,353.55 L531.44,354.41 L532.29,355.26 L533.14,356.10 L534.00,356.94 L534.87,357.77 L535.74,358.60 L536.62,359.42 L537.50,360.23 L538.39,361.04 L539.29,361.84 L540.19,362.63 L541.09,363.42 L542.01,364.20 L542.93,364.97 L543.85,365.74 L544.79,366.50 L545.72,367.25 L546.67,368.00 L547.62,368.73 L548.57,369.46 L549.53,370.19 L550.50,370.91 L551.47,371.61 L552.45,372.32 L553.43,373.01 L554.42,373.70 L555.42,374.38 L556.42,375.05 L557.42,375.72 L558.44,376.37 L559.45,377.02 L560.47,377.66 L561.50,378.30 L562.53,378.92 L563.57,379.54 L564.61,380.15 L565.66,380.76 L566.71,381.35 L567.76,381.94 L568.83,382.52 L569.89,383.09 L570.96,383.65 L572.04,384.20 L573.12,384.75 L574.20,385.29 L575.29,385.82 L576.39,386.34 L577.49,386.85 L578.59,387.36 L579.69,387.85 L580.80,388.34 L581.92,388.82 L583.04,389.30 L584.16,389.76 L585.28,390.22 L586.41,390.66 L587.54,391.10 L588.68,391.53 L589.82,391.96 L590.96,392.37 L592.11,392.78 L593.25,393.18 L594.41,393.57 L595.56,393.95 L596.72,394.32 L597.88,394.69 L599.04,395.05 L600.20,395.39 L601.37,395.74 L602.54,396.07 L603.71,396.39 L604.88,396.71 L606.06,397.02 L607.23,397.32 L608.41,397.61 L609.59,397.89 L610.77,398.17 L611.96,398.43 L613.14,398.69 L614.33,398.94 L615.51,399.19 L616.70,399.42 L617.89,399.64 L619.08,399.86 L620.27,400.07 L621.47,400.27 L622.66,400.47 L623.85,400.65 L625.05,400.83 L626.24,401.00 L627.44,401.16 L628.63,401.31 L629.83,401.45 L631.02,401.59 L632.21,401.71 L633.41,401.83 L634.60,401.94 L635.80,402.05 L636.99,402.14" stroke="#00f" stroke-width="2.3" fill="none" stroke-linejoin="round"/>
<path d="M94.40,256.80 H102.80" stroke="#000" stroke-width="1.3"/><path d="M94.40,324.00 H102.80" stroke="#000" stroke-width="1.3"/><path d="M98.60,256.80 V324.00" stroke="#000" stroke-width="1.3"/>
<rect x="94.30" y="285.70" width="9.2" height="9.2" fill="#000"/>
<rect x="170.50" y="264.60" width="9.2" height="9.2" fill="#000"/>
<rect x="247.80" y="241.40" width="9.2" height="9.2" fill="#000"/>
<path d="M324.70,262.70 H333.10" stroke="#000" stroke-width="1.3"/><path d="M324.70,278.10 H333.10" stroke="#000" stroke-width="1.3"/><path d="M328.90,262.70 V278.10" stroke="#000" stroke-width="1.3"/>
<rect x="324.60" y="265.50" width="9.2" height="9.2" fill="#000"/>
<path d="M401.30,358.10 H409.70" stroke="#000" stroke-width="1.3"/><path d="M401.30,380.80 H409.70" stroke="#000" stroke-width="1.3"/><path d="M405.50,358.10 V380.80" stroke="#000" stroke-width="1.3"/>
<rect x="401.20" y="364.90" width="9.2" height="9.2" fill="#000"/>
<rect x="478.00" y="394.60" width="9.2" height="9.2" fill="#000"/>
<path d="M554.70,401.30 H563.10" stroke="#000" stroke-width="1.3"/><path d="M554.70,409.20 H563.10" stroke="#000" stroke-width="1.3"/><path d="M558.90,401.30 V409.20" stroke="#000" stroke-width="1.3"/>
<rect x="554.60" y="396.70" width="9.2" height="9.2" fill="#000"/>
<path d="M94.40,171.60 H102.80" stroke="#f00" stroke-width="1.3"/><path d="M94.40,186.00 H102.80" stroke="#f00" stroke-width="1.3"/><path d="M98.60,171.60 V186.00" stroke="#f00" stroke-width="1.3"/>
<circle cx="98.6" cy="178.6" r="4.7" fill="#f00"/>
<path d="M170.80,150.60 H179.20" stroke="#f00" stroke-width="1.3"/><path d="M170.80,183.60 H179.20" stroke="#f00" stroke-width="1.3"/><path d="M175.00,150.60 V183.60" stroke="#f00" stroke-width="1.3"/>
<circle cx="175.0" cy="167.0" r="4.7" fill="#f00"/>
<path d="M247.60,132.50 H256.00" stroke="#f00" stroke-width="1.3"/><path d="M247.60,176.10 H256.00" stroke="#f00" stroke-width="1.3"/><path d="M251.80,132.50 V176.10" stroke="#f00" stroke-width="1.3"/>
<circle cx="251.8" cy="154.6" r="4.7" fill="#f00"/>
<path d="M324.50,175.40 H332.90" stroke="#f00" stroke-width="1.3"/><path d="M324.50,221.40 H332.90" stroke="#f00" stroke-width="1.3"/><path d="M328.70,175.40 V221.40" stroke="#f00" stroke-width="1.3"/>
<circle cx="328.7" cy="198.2" r="4.7" fill="#f00"/>
<path d="M401.20,219.00 H409.60" stroke="#f00" stroke-width="1.3"/><path d="M401.20,249.10 H409.60" stroke="#f00" stroke-width="1.3"/><path d="M405.40,219.00 V249.10" stroke="#f00" stroke-width="1.3"/>
<circle cx="405.4" cy="233.7" r="4.7" fill="#f00"/>
<path d="M478.00,352.50 H486.40" stroke="#f00" stroke-width="1.3"/><path d="M478.00,371.40 H486.40" stroke="#f00" stroke-width="1.3"/><path d="M482.20,352.50 V371.40" stroke="#f00" stroke-width="1.3"/>
<circle cx="482.2" cy="362.0" r="4.7" fill="#f00"/>
<circle cx="558.9" cy="397.3" r="4.7" fill="#f00"/>
<path d="M94.20,37.00 H102.60 M98.40,37.00 V62.80" stroke="#00f" stroke-width="1.3"/>
<path d="M94.20,95.80 H102.60 M98.40,73.80 V95.80" stroke="#00f" stroke-width="1.3"/>
<path d="M98.40,60.80 L104.90,70.40 L91.90,70.40 Z" fill="#00f"/>
<path d="M171.00,42.80 H179.40 M175.20,40.20 V44.80" stroke="#00f" stroke-width="1.3"/>
<path d="M175.20,40.20 L179.50,52.70 L170.90,52.70 Z" fill="#00f"/>
<path d="M247.90,38.30 H256.30 M252.10,36.90 V40.30" stroke="#00f" stroke-width="1.3"/>
<path d="M252.10,36.90 L257.90,49.30 L246.30,49.30 Z" fill="#00f"/>
<path d="M324.80,45.20 H333.20 M329.00,42.10 V47.20" stroke="#00f" stroke-width="1.3"/>
<path d="M329.00,52.20 V54.80" stroke="#00f" stroke-width="1.3"/>
<path d="M329.00,42.10 L335.00,52.70 L323.00,52.70 Z" fill="#00f"/>
<path d="M401.10,92.30 H409.50 M405.30,92.30 V106.50" stroke="#00f" stroke-width="1.3"/>
<path d="M401.10,128.10 H409.50 M405.30,116.50 V128.10" stroke="#00f" stroke-width="1.3"/>
<path d="M405.30,104.50 L411.50,114.40 L399.10,114.40 Z" fill="#00f"/>
<path d="M477.90,286.20 H486.30 M482.10,286.20 V302.30" stroke="#00f" stroke-width="1.3"/>
<path d="M477.90,327.70 H486.30 M482.10,312.40 V327.70" stroke="#00f" stroke-width="1.3"/>
<path d="M482.10,300.30 L488.50,310.20 L475.70,310.20 Z" fill="#00f"/>
<path d="M559.10,391.20 V396.20" stroke="#00f" stroke-width="1.3"/>
<path d="M559.10,381.70 L565.10,391.70 L553.10,391.70 Z" fill="#00f"/>
<rect x="631" y="396.9" width="8.9" height="11.3" fill="#f00"/>
<path d="M635.5,397.2 L639.9,401.6 V406.5 H631 V401.6 Z" fill="#00f"/>
<path d="M631,403.3 H639.9" stroke="#000" stroke-width="1.3"/>
<path d="M635.5,406 V409.7" stroke="#00f" stroke-width="1.3"/>
<path d="M90.4,54 V70.5" stroke="#00f" stroke-width="0.8" stroke-dasharray="3,1.2" opacity="0.8"/>
</svg>
</body></html>
